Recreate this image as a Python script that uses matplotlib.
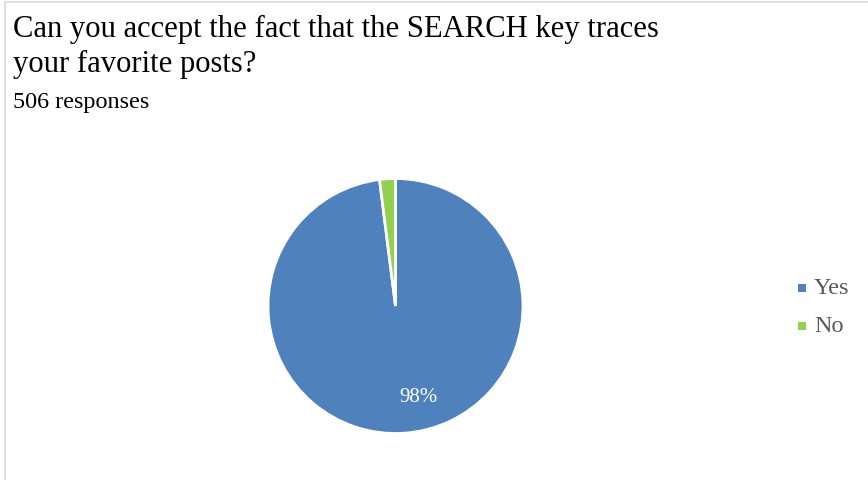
import matplotlib.pyplot as plt
from matplotlib.patches import Rectangle

title_lines = ['Can you accept the fact that the SEARCH key traces', 'your favorite posts?']
labels = ['Yes', 'No']
shares = [98, 2]
colors = ['#4F81BD', '#92D050']
responses = 506

fig = plt.figure(figsize=(8.68, 4.80), dpi=100)
plt.rcParams['font.family'] = ['Liberation Serif', 'DejaVu Serif']

# light frame along the top and left edge
fig.patches.append(Rectangle((5 / 868, -0.1), 1.2, (480 - 2) / 480 + 0.1,
                             transform=fig.transFigure, fill=False,
                             edgecolor='#d9d9d9', linewidth=1.2))

for i, line in enumerate(title_lines):
    fig.text(13 / 868, 1 - (37 + 35 * i) / 480, line, fontsize=22.1, color='black', va='baseline')
fig.text(13 / 868, 1 - 108 / 480, f'{responses} responses', fontsize=17.4, color='black', va='baseline')

ax = fig.add_axes([268 / 868, (174 - 127.5) / 480, 255 / 868, 255 / 480])
wedges, _ = ax.pie(shares, colors=colors, startangle=90, counterclock=False,
                   wedgeprops=dict(edgecolor='white', linewidth=2))
ax.set_xlim(-1, 1)
ax.set_ylim(-1, 1)
ax.set_aspect('equal')
ax.axis('off')

ax.text(0.18, -0.72, f'{shares[0]}%', color='white', fontsize=15,
        ha='center', va='center')

for i, (lab, c) in enumerate(zip(labels, colors)):
    y = 1 - (288 + 38 * i) / 480
    fig.patches.append(Rectangle((798 / 868, y - 4 / 480), 8 / 868, 8 / 480,
                                 transform=fig.transFigure, facecolor=c, edgecolor='none'))
    fig.text(814 / 868, y - 6 / 480, lab, fontsize=17.5, color='#595959', va='baseline')

fig.savefig('out.png', dpi=100)
